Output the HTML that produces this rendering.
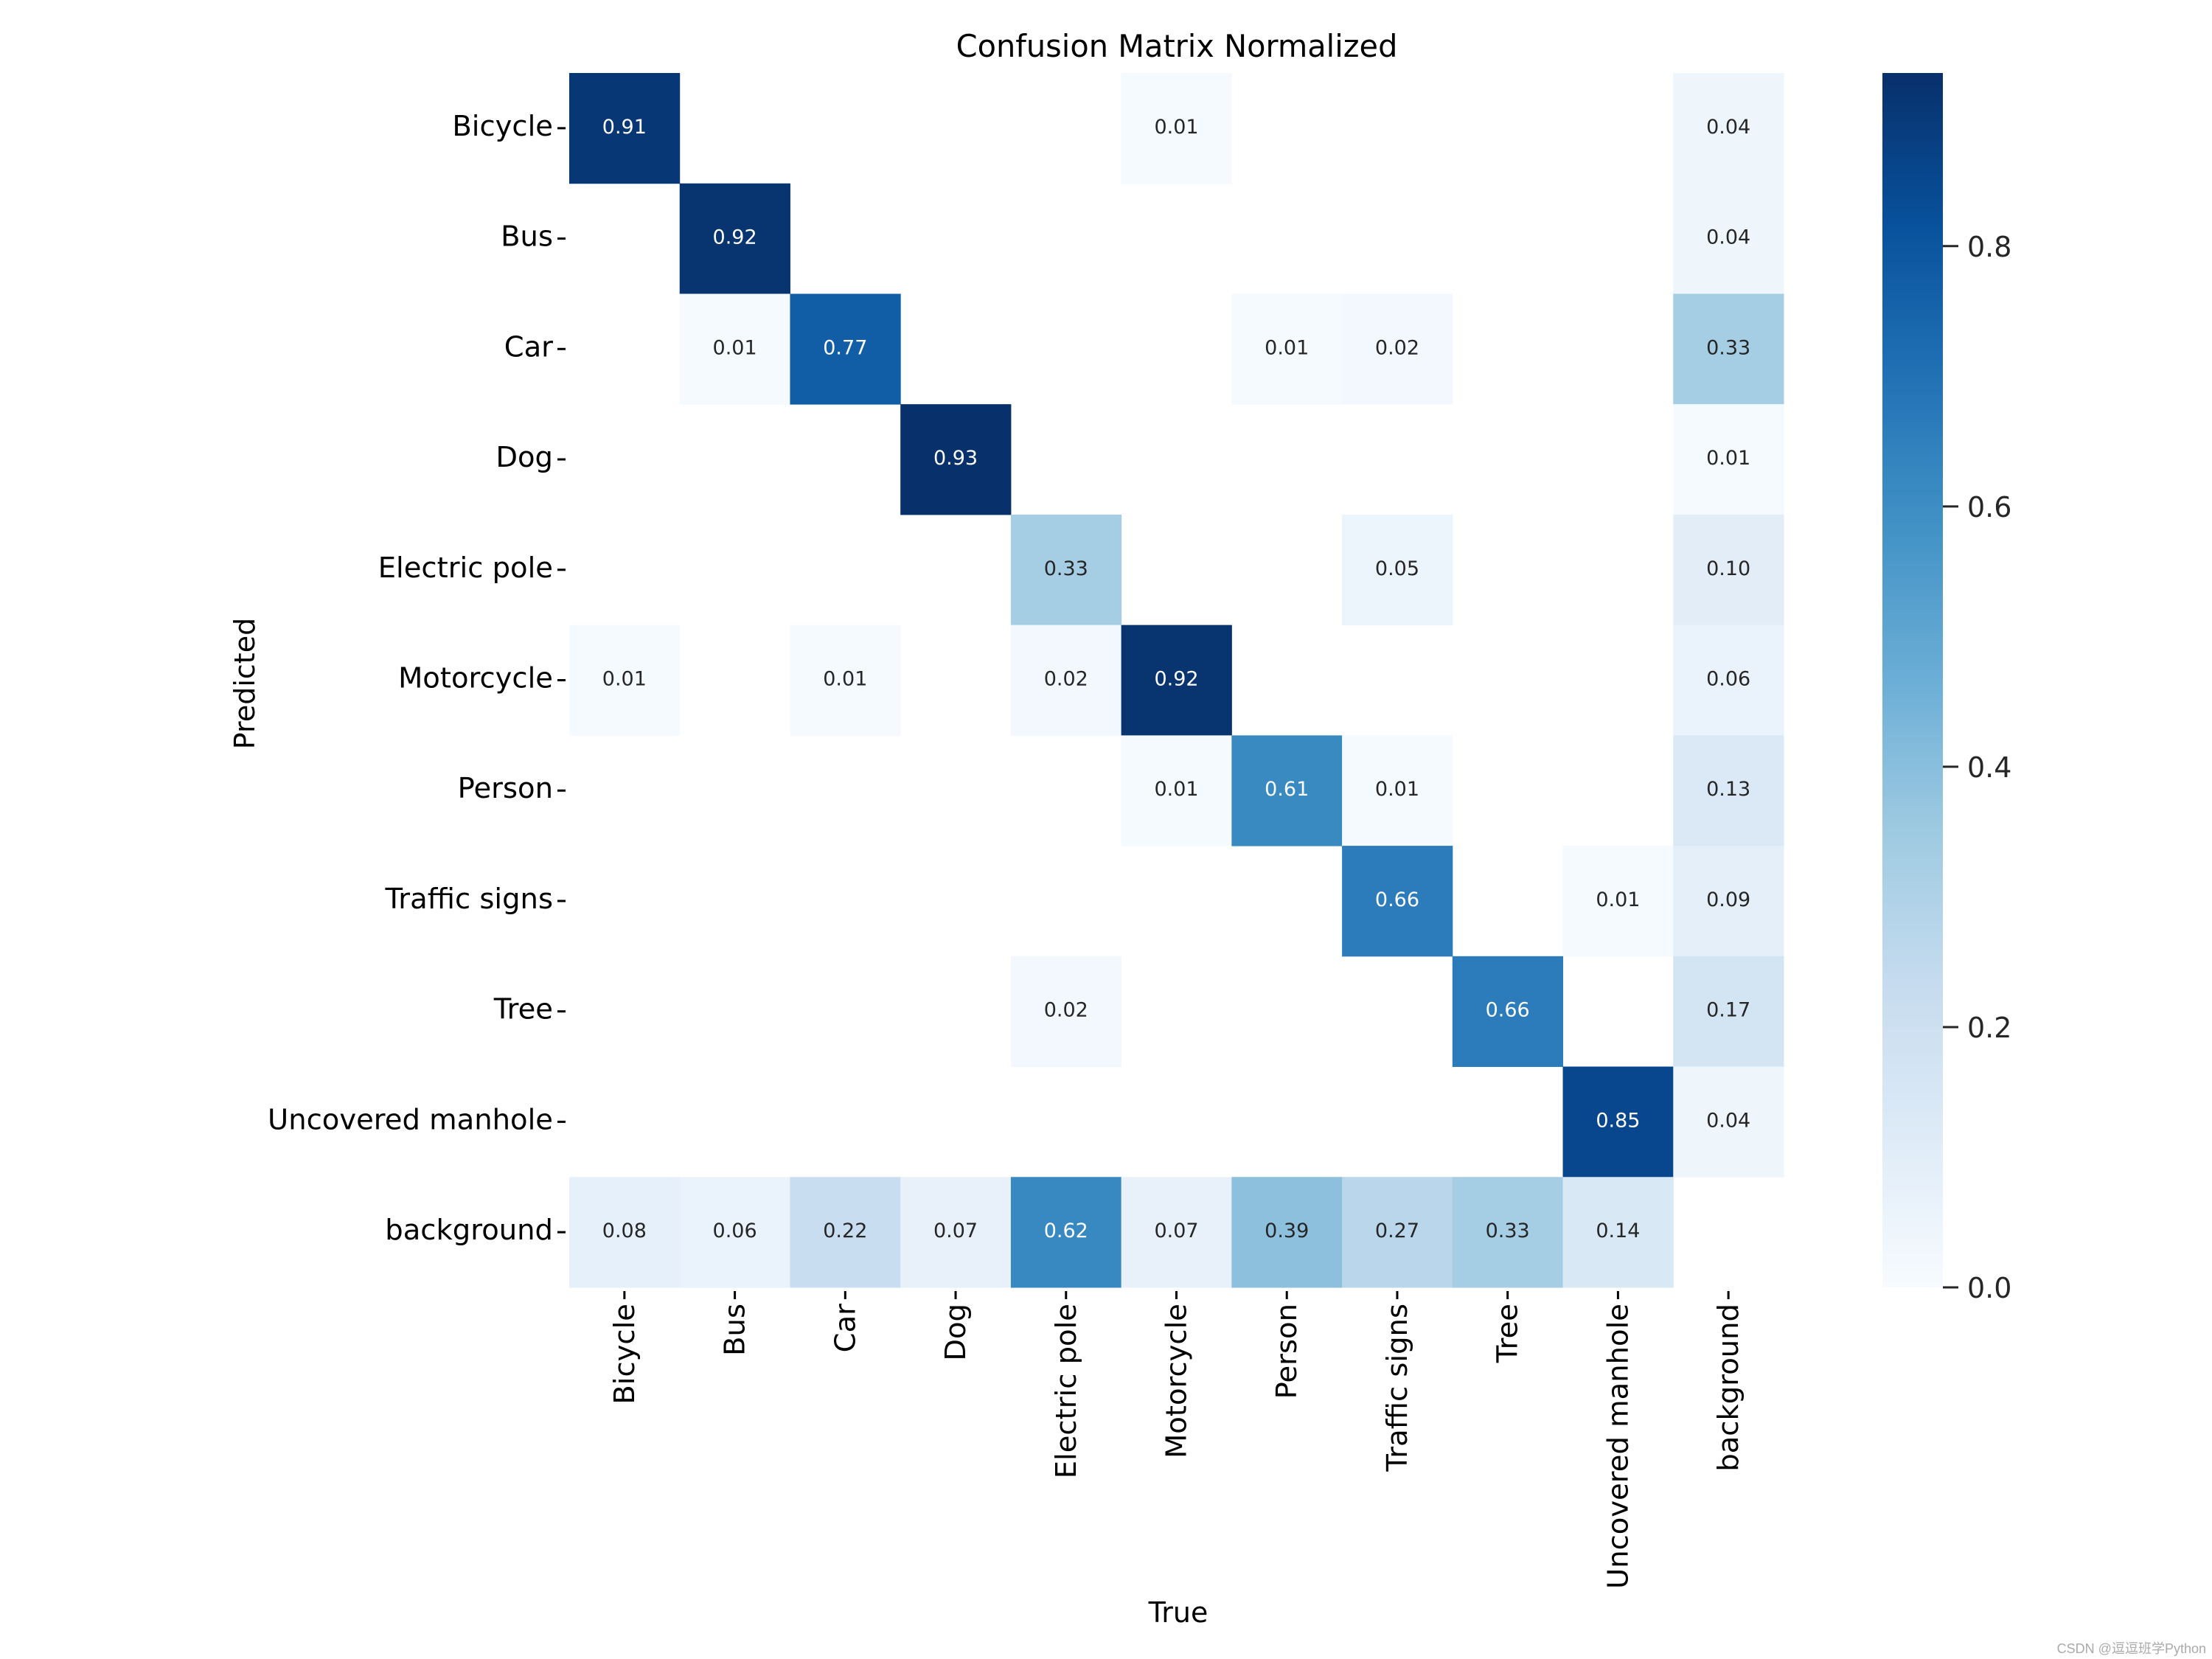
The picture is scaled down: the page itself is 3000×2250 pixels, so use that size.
<!DOCTYPE html>
<html><head><meta charset="utf-8"><style>
html,body{margin:0;padding:0;background:#fff}
svg{display:block;font-family:"DejaVu Sans","Liberation Sans",sans-serif}
</style></head><body>
<svg id="chart" width="3000" height="2250" viewBox="0 0 3000 2250" xmlns="http://www.w3.org/2000/svg">
<defs><linearGradient id="cbgrad" x1="0" y1="1" x2="0" y2="0"></linearGradient></defs>
<text x="1596" y="77" font-size="41.5" text-anchor="middle">Confusion Matrix Normalized</text>
<text transform="translate(345,927) rotate(-90)" font-size="38" text-anchor="middle">Predicted</text>
<text x="1598" y="2200" font-size="38" text-anchor="middle">True</text>
<text x="2992" y="2242" font-size="18" fill="#aaa" text-anchor="end" font-family="Liberation Sans, Noto Sans CJK SC, sans-serif">CSDN @逗逗班学Python</text>
<g id="cells"></g><g id="ylabels"></g><g id="xlabels"></g><g id="cbar"></g>
</svg>
<script>
const categories = ["Bicycle","Bus","Car","Dog","Electric pole","Motorcycle","Person","Traffic signs","Tree","Uncovered manhole","background"];
const row0 = [0.91,0,0,0,0,0.01,0,0,0,0,0.04];
const row1 = [0,0.92,0,0,0,0,0,0,0,0,0.04];
const row2 = [0,0.01,0.77,0,0,0,0.01,0.02,0,0,0.33];
const row3 = [0,0,0,0.93,0,0,0,0,0,0,0.01];
const row4 = [0,0,0,0,0.33,0,0,0.05,0,0,0.10];
const row5 = [0.01,0,0.01,0,0.02,0.92,0,0,0,0,0.06];
const row6 = [0,0,0,0,0,0.01,0.61,0.01,0,0,0.13];
const row7 = [0,0,0,0,0,0,0,0.66,0,0.01,0.09];
const row8 = [0,0,0,0,0.02,0,0,0,0.66,0,0.17];
const row9 = [0,0,0,0,0,0,0,0,0,0.85,0.04];
const row10 = [0.08,0.06,0.22,0.07,0.62,0.07,0.39,0.27,0.33,0.14,0];
const matrix = [row0,row1,row2,row3,row4,row5,row6,row7,row8,row9,row10];
const cbTicks = [0.0,0.2,0.4,0.6,0.8];
const vmax = 0.933;

const NS="http://www.w3.org/2000/svg";
const L=772, T=99, S=1647, n=categories.length, cw=S/n;
const CBX=2553, CBW=82;
const xPos=i=>L+i*cw, yPos=i=>T+i*cw, cbY=v=>T+S-(v/vmax)*S;
const stops=["#f7fbff","#deebf7","#c6dbef","#9ecae1","#6baed6","#4292c6","#2171b5","#08519c","#08306b"];
function hex(h){return [1,3,5].map(k=>parseInt(h.substr(k,2),16));}
function blues(t){t=Math.max(0,Math.min(1,t));const p=t*8,i=Math.min(7,Math.floor(p)),f=p-i;const a=hex(stops[i]),b=hex(stops[i+1]);return "rgb("+a.map((c,k)=>Math.round(c+(b[k]-c)*f)).join(",")+")";}
function mk(tag,attrs,parent){const e=document.createElementNS(NS,tag);for(const k in attrs)e.setAttribute(k,attrs[k]);parent.appendChild(e);return e;}
const gc=document.getElementById("cells");
matrix.forEach((row,r)=>row.forEach((v,c)=>{
  if(v<0.005)return;
  const rect=mk("rect",{x:xPos(c),y:yPos(r),width:cw+0.5,height:cw+0.5,fill:blues(v/vmax)},gc);
  
  
  const t=mk("text",{x:xPos(c)+cw/2,y:yPos(r)+cw/2+7,"font-size":"27","text-anchor":"middle",fill:(v/vmax>0.5?"#fff":"#262626")},gc);
  t.textContent=v.toFixed(2);
  
  
}));
const gy=document.getElementById("ylabels"),gx=document.getElementById("xlabels");
categories.forEach((name,i)=>{
  const yc=yPos(i)+cw/2;
  mk("line",{x1:L-16,x2:L-5,y1:yc,y2:yc,stroke:"#000","stroke-width":"3"},gy);
  const t=mk("text",{x:L-22,y:yc+10,"font-size":"38.5","text-anchor":"end"},gy);
  t.textContent=name;
  
  
  const xc=xPos(i)+cw/2;
  mk("line",{x1:xc,x2:xc,y1:T+S+5,y2:T+S+16,stroke:"#000","stroke-width":"3"},gx);
  const u=mk("text",{transform:"translate("+(xc+13)+","+(T+S+22)+") rotate(-90)","font-size":"38.5","text-anchor":"end"},gx);
  u.textContent=name;
  
  
});
const grad=document.getElementById("cbgrad");
for(let k=0;k<=16;k++){mk("stop",{offset:(k/16),"stop-color":blues(k/16)},grad);}
const gb=document.getElementById("cbar");
const cb=mk("rect",{x:CBX,y:T,width:CBW,height:S,fill:"url(#cbgrad)"},gb);


cbTicks.forEach(v=>{
  const y=cbY(v);
  mk("line",{x1:CBX+CBW,x2:CBX+CBW+21,y1:y,y2:y,stroke:"#262626","stroke-width":"3"},gb);
  const t=mk("text",{x:CBX+CBW+33,y:y+14,"font-size":"38","fill":"#262626"},gb);
  t.textContent=v.toFixed(1);
  
  
});
</script>
</body></html>
